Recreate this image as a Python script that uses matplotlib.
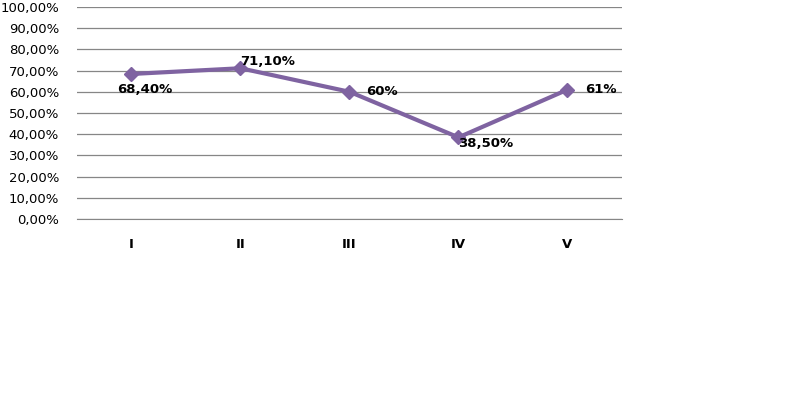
import matplotlib.pyplot as plt

# data
categories = ['I', 'II', 'III', 'IV', 'V']
values = [68.4, 71.1, 60, 38.5, 61]
labels = ['68,40%', '71,10%', '60%', '38,50%', '61%']
yticks = list(range(0, 101, 10))

fig = plt.figure(figsize=(7.88, 3.97), dpi=100)
ax = fig.add_axes([0.0977, 0.4484, 0.6916, 0.534])

x = list(range(len(categories)))
ax.plot(x, values, color='#7F63A1', linewidth=3, marker='D', markersize=7,
        zorder=3)

# label offsets (points), roughly where excel put them
offsets = [(-10, -11), (0, 5), (12, 0), (0, -4.5), (12.5, 0)]
for xi, v, lab, (dx, dy) in zip(x, values, labels, offsets):
    ax.annotate(lab, (xi, v), xytext=(dx, dy), textcoords='offset points',
                ha='left', va='center', fontsize=9.5, fontweight='bold',
                color='black', zorder=4)

ax.set_xlim(-0.5, 4.5)
ax.set_ylim(0, 100)
ax.set_yticks(yticks)
ax.set_yticklabels(['%d,00%%' % t for t in yticks], fontsize=9.5)
ax.set_xticks(x)
ax.set_xticklabels(categories, fontsize=9.5, fontweight='bold')
ax.tick_params(axis='both', length=0)
ax.tick_params(axis='x', pad=14)
ax.tick_params(axis='y', pad=13)

ax.grid(axis='y', color='#868686', linewidth=0.9)
ax.set_axisbelow(True)
for s in ['left', 'right', 'top']:
    ax.spines[s].set_visible(False)
ax.spines['bottom'].set_color('#868686')

plt.savefig('out.png', dpi=100)
